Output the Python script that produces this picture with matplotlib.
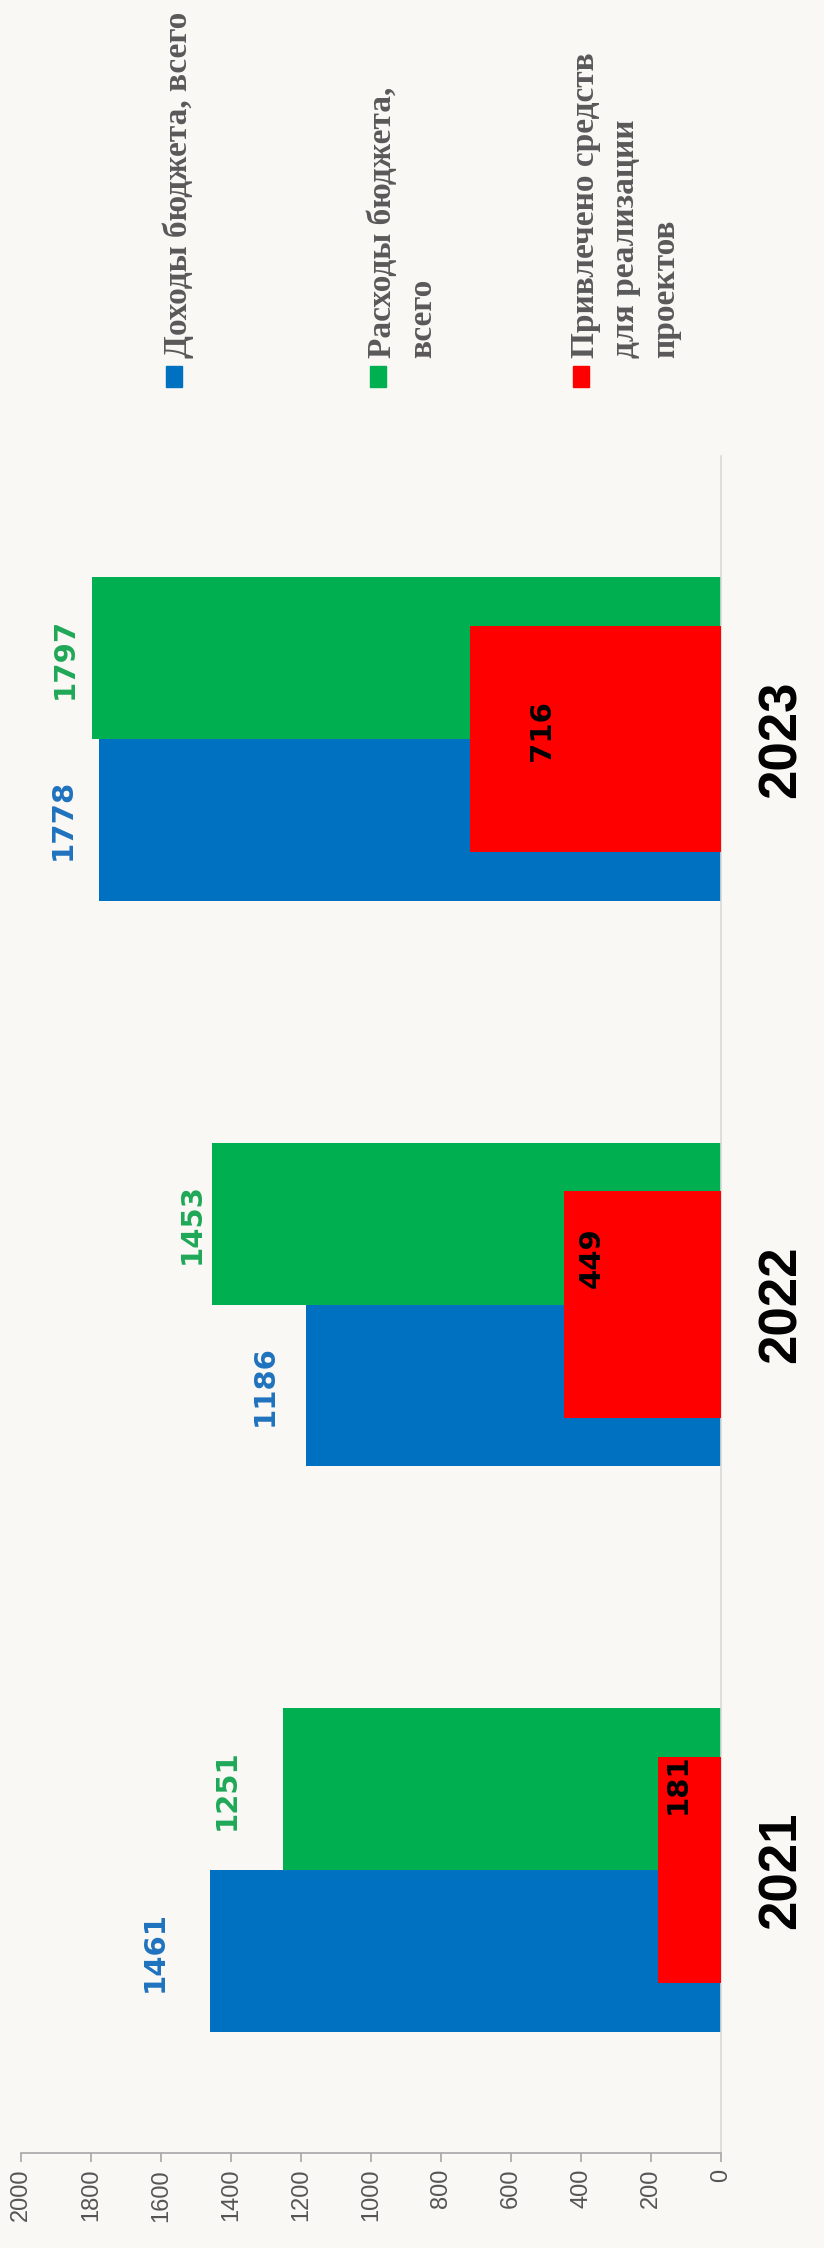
import matplotlib
matplotlib.use("Agg")
import matplotlib.pyplot as plt
from matplotlib.patches import Rectangle
import numpy as np

# ---------------- data ----------------
years = ["2021", "2022", "2023"]
income = [1461, 1186, 1778]        # Доходы бюджета, всего
expenses = [1251, 1453, 1797]      # Расходы бюджета, всего
attracted = [181, 449, 716]        # Привлечено средств для реализации проектов
series_names = [["Доходы бюджета, всего"],
                ["Расходы бюджета,", "всего"],
                ["Привлечено средств", "для реализации", "проектов"]]
value_ticks = [0, 200, 400, 600, 800, 1000, 1200, 1400, 1600, 1800, 2000]

# ---------------- style ----------------
W, H, DPI = 824, 2248, 100
BG = "#F9F8F5"
C_BLUE, C_GREEN, C_RED = "#0070C0", "#00B050", "#FF0000"
LBL_BLUE, LBL_GREEN = "#1F72BE", "#1FA858"
# label distance (px) beyond bar ends
income_gap = [55, 41, 36]
expense_gap = [56, 21, 27]
# red label: px inward from bar end, px upward from category centre
att_dx = [20, 28, 72]
att_dy = [86, 47, 8]

fig = plt.figure(figsize=(W / DPI, H / DPI), dpi=DPI, facecolor=BG)

# axes in pixel layout
ax_left, ax_right, ax_top, ax_bot = 21, 721, 456, 2153
ax = fig.add_axes([ax_left / W, 1 - ax_bot / H, (ax_right - ax_left) / W, (ax_bot - ax_top) / H])
ax.set_facecolor(BG)

y = np.arange(len(years))
bw = 0.286
ax.barh(y - bw / 2, income, height=bw, color=C_BLUE, zorder=2)
ax.barh(y + bw / 2, expenses, height=bw, color=C_GREEN, zorder=2)
ax.barh(y, attracted, height=0.40, color=C_RED, zorder=3)

ax.set_xlim(2000, 0)
ax.set_ylim(-0.5, len(years) - 0.5)

ax.set_xticks(value_ticks)
ax.set_xticklabels([str(v) for v in value_ticks], rotation=90,
                   fontsize=17, color="#555555", family=["Liberation Sans", "DejaVu Sans"])
ax.tick_params(axis="x", length=6.5, width=1.1, color="#A0A0A0", pad=5)
ax.set_yticks([])

for s in ["left", "top"]:
    ax.spines[s].set_visible(False)
ax.spines["bottom"].set_color("#A6A6A6")
ax.spines["bottom"].set_linewidth(1.2)
ax.spines["right"].set_color("#D9D9D9")
ax.spines["right"].set_linewidth(1.2)

px2pt = 72 / DPI
lbl_font = dict(fontsize=21, fontweight="bold", family=["DejaVu Sans"],
                rotation=90, ha="center", va="center", rotation_mode="anchor")

for i in range(len(years)):
    ax.annotate(str(income[i]), xy=(income[i], y[i] - bw / 2), xytext=(-income_gap[i] * px2pt, 0),
                textcoords="offset points", color=LBL_BLUE, zorder=5, **lbl_font)
    ax.annotate(str(expenses[i]), xy=(expenses[i], y[i] + bw / 2), xytext=(-expense_gap[i] * px2pt, 0),
                textcoords="offset points", color=LBL_GREEN, zorder=5, **lbl_font)
    ax.annotate(str(attracted[i]), xy=(attracted[i], y[i]), xytext=(att_dx[i] * px2pt, att_dy[i] * px2pt),
                textcoords="offset points", color="black", zorder=5, **lbl_font)
    # year label
    ax.text(1.087, y[i], years[i], transform=ax.get_yaxis_transform(),
            rotation=90, ha="center", va="center", rotation_mode="anchor",
            fontsize=38, fontweight="bold", color="black",
            family=["Liberation Sans Narrow", "Liberation Sans", "DejaVu Sans"])

# ---------------- legend (rotated) ----------------
marker_x = [174, 378, 581]
colors = [C_BLUE, C_GREEN, C_RED]
line_step = 40
for mx, col, lines in zip(marker_x, colors, series_names):
    fig.add_artist(Rectangle(((mx - 8) / W, 1 - 387 / H), 16 / W, 21 / H,
                             transform=fig.transFigure, color=col))
    for k, line in enumerate(lines):
        fig.text((mx + 13 + k * line_step) / W, 1 - 358 / H, line, rotation=90,
                 rotation_mode="anchor", ha="left", va="baseline",
                 fontsize=24, fontweight="bold", color="#595959",
                 family=["Liberation Serif", "DejaVu Serif"])

fig.savefig("out.png", dpi=DPI, facecolor=BG)
